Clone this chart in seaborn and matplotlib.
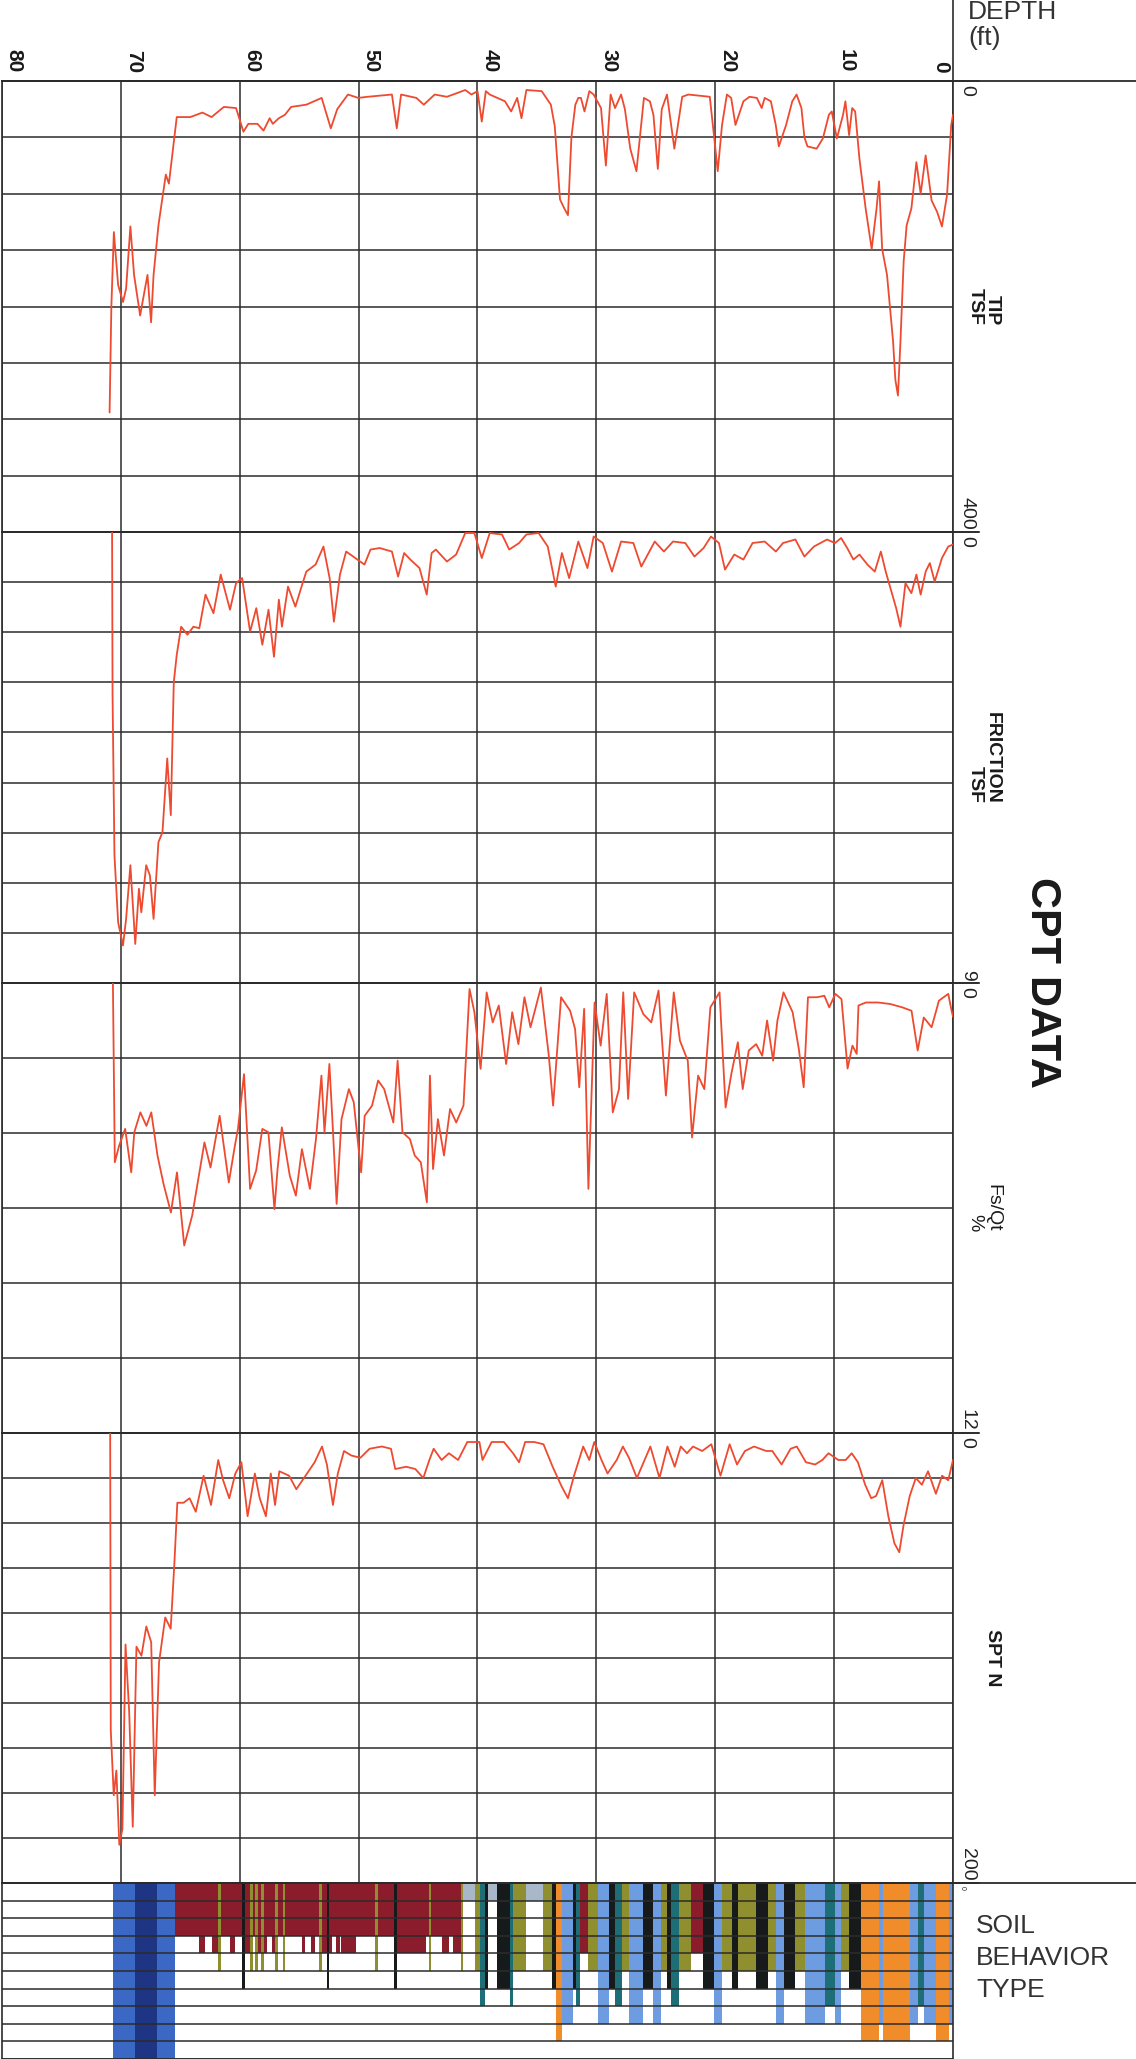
import numpy as np
import matplotlib
matplotlib.use("Agg")
import matplotlib.pyplot as plt
import seaborn as sns

# depth (ft) vs. cone readings
tip_depth = [
    0.0, 0.15, 0.5, 0.93, 1.34, 1.8, 2.3, 2.72, 3.08, 3.5,
    3.9, 4.15, 4.42, 4.63, 4.85, 5.04, 5.55, 5.96, 6.22, 6.43,
    6.84, 7.35, 7.87, 8.23, 8.48, 8.74, 9.05, 9.25, 9.77, 10.2,
    10.44, 10.95, 11.47, 12.24, 12.5, 12.75, 13.16, 13.52, 14.04, 14.65,
    14.91, 15.32, 15.84, 16.09, 16.5, 17.12, 17.63, 18.3, 18.66, 19.02,
    19.43, 19.79, 20.05, 20.46, 22.26, 22.78, 23.44, 24.06, 24.5, 24.83,
    25.2, 25.5, 26.0, 26.63, 27.15, 27.6, 27.92, 28.43, 28.8, 29.2,
    29.61, 30.23, 30.59, 31.0, 31.3, 31.52, 31.77, 32.1, 32.39, 32.7,
    33.06, 33.5, 33.83, 34.6, 35.89, 36.3, 36.66, 37.17, 37.69, 38.97,
    39.3, 39.64, 40.0, 40.51, 41.03, 42.57, 43.6, 44.52, 45.14, 46.43,
    46.79, 47.2, 49.25, 50.03, 50.9, 51.8, 52.34, 53.11, 54.4, 55.68,
    56.2, 56.71, 57.22, 57.48, 58.0, 58.51, 59.28, 59.69, 60.31, 61.34,
    62.37, 63.14, 64.16, 65.09, 65.3, 65.96, 66.22, 66.84, 67.25, 67.46,
    67.76, 67.97, 68.38, 68.89, 69.2, 69.56, 69.82, 70.23, 70.59, 70.8,
    70.95,
]
tip_tsf = [
    30, 39, 101, 129, 116, 106, 66, 100, 72, 113,
    128, 160, 231, 279, 265, 231, 172, 149, 89, 113,
    149, 113, 69, 27, 24, 48, 18, 30, 51, 27,
    30, 51, 60, 58, 50, 24, 12, 18, 39, 58,
    39, 18, 15, 24, 15, 14, 18, 39, 15, 12,
    39, 80, 54, 14, 12, 14, 60, 12, 25, 78,
    30, 18, 15, 80, 60, 25, 12, 24, 12, 75,
    24, 12, 9, 27, 15, 15, 21, 50, 119, 113,
    105, 40, 21, 9, 8, 33, 15, 27, 18, 12,
    9, 36, 9, 12, 8, 14, 12, 21, 15, 12,
    42, 12, 14, 15, 12, 25, 42, 15, 21, 23,
    30, 33, 38, 33, 44, 38, 38, 45, 24, 23,
    32, 28, 32, 32, 32, 91, 83, 128, 172, 214,
    172, 184, 208, 172, 129, 184, 196, 181, 134, 200,
    294,
]

fric_depth = [
    0.0, 0.4, 0.93, 1.54, 1.95, 2.3, 2.72, 3.08, 3.5, 4.0,
    4.42, 4.78, 5.3, 5.66, 6.07, 6.58, 7.2, 7.87, 8.38, 8.9,
    9.41, 9.92, 10.6, 11.7, 12.5, 13.26, 14.3, 14.9, 15.84, 16.86,
    17.63, 18.4, 19.18, 19.69, 20.36, 20.98, 21.75, 22.52, 23.55, 24.32,
    25.09, 26.22, 26.89, 27.92, 28.69, 29.46, 30.23, 30.75, 31.52, 32.29,
    32.9, 33.42, 34.09, 34.86, 35.89, 36.5, 37.33, 37.94, 38.97, 39.64,
    40.26, 41.03, 41.8, 42.57, 43.5, 43.86, 44.27, 44.88, 45.65, 46.17,
    46.68, 47.2, 48.23, 49.0, 49.51, 50.28, 51.05, 51.57, 52.08, 52.44,
    52.96, 53.62, 54.4, 54.75, 55.32, 55.94, 56.45, 56.71, 57.12, 57.58,
    58.1, 58.61, 59.13, 59.8, 60.31, 60.82, 61.6, 62.21, 62.88, 63.4,
    63.9, 64.4, 64.93, 65.3, 65.55, 65.8, 66.1, 66.5, 66.84, 67.25,
    67.56, 67.87, 68.28, 68.48, 68.79, 69.2, 69.56, 69.82, 70.23, 70.54,
    70.7, 70.74,
]
fric_tsf = [
    0.25, 0.29, 0.52, 0.99, 0.62, 0.79, 1.25, 0.85, 1.22, 1.02,
    1.89, 1.52, 1.09, 0.79, 0.39, 0.79, 0.65, 0.45, 0.55, 0.32,
    0.12, 0.22, 0.15, 0.29, 0.49, 0.15, 0.22, 0.39, 0.19, 0.22,
    0.55, 0.45, 0.75, 0.22, 0.09, 0.32, 0.49, 0.22, 0.19, 0.39,
    0.19, 0.69, 0.22, 0.19, 0.79, 0.22, 0.09, 0.72, 0.19, 0.92,
    0.42, 1.09, 0.29, 0.02, 0.05, 0.22, 0.35, 0.05, 0.02, 0.52,
    0.02, 0.02, 0.45, 0.59, 0.35, 0.42, 1.25, 0.72, 0.55, 0.42,
    0.89, 0.39, 0.32, 0.35, 0.65, 0.52, 0.39, 0.85, 1.79, 0.92,
    0.29, 0.65, 0.79, 1.05, 1.49, 1.09, 1.89, 1.35, 2.49, 1.55,
    2.25, 1.52, 1.99, 0.92, 1.02, 1.55, 0.85, 1.62, 1.25, 1.92,
    1.89, 2.05, 1.89, 2.45, 3.0, 5.65, 4.52, 5.99, 6.19, 7.72,
    6.85, 6.65, 7.59, 7.12, 8.22, 6.65, 7.72, 8.25, 7.79, 6.45,
    3.25, 0.0,
]

ratio_depth = [
    0.0, 0.15, 0.4, 1.18, 1.8, 2.46, 2.97, 3.49, 4.26, 5.28,
    6.3, 7.33, 7.95, 8.1, 8.46, 8.87, 9.38, 9.9, 10.41, 10.82,
    11.44, 12.2, 12.56, 12.97, 13.49, 14.26, 14.77, 15.13, 15.64, 16.05,
    16.56, 17.18, 17.69, 18.1, 18.62, 19.13, 19.64, 20.41, 20.92, 21.44,
    21.95, 22.31, 22.97, 23.49, 24.15, 24.77, 25.38, 26.05, 26.82, 27.33,
    27.74, 28.1, 28.62, 29.13, 29.64, 30.15, 30.67, 31.03, 31.44, 31.79,
    32.21, 32.97, 33.64, 34.0, 34.67, 35.54, 36.05, 36.56, 37.08, 37.59,
    38.21, 38.72, 39.23, 39.74, 40.26, 40.67, 41.18, 41.79, 42.31, 42.82,
    43.33, 43.74, 44.0, 44.26, 44.77, 45.28, 45.69, 46.31, 46.72, 47.08,
    47.85, 48.36, 48.87, 49.49, 49.79, 50.41, 50.82, 51.44, 51.85, 52.21,
    52.46, 52.87, 53.13, 53.59, 54.1, 54.77, 55.28, 55.79, 56.46, 56.82,
    57.08, 57.59, 58.1, 58.62, 59.13, 59.64, 60.15, 60.41, 60.92, 61.69,
    62.46, 62.97, 63.49, 64.0, 64.67, 65.28, 65.79, 66.41, 66.92, 67.44,
    67.85, 68.36, 68.87, 69.13, 69.64, 70.15, 70.51, 70.67,
]
ratio_pct = [
    0.9, 0.69, 0.29, 0.47, 1.18, 0.92, 1.8, 0.74, 0.65, 0.56,
    0.52, 0.52, 0.6, 1.89, 1.67, 2.28, 0.43, 0.29, 0.65, 0.34,
    0.38, 0.38, 2.78, 1.76, 0.78, 0.25, 1.0, 2.07, 1.0, 1.94,
    1.63, 1.8, 2.83, 1.58, 2.38, 3.32, 0.25, 0.65, 2.83, 2.47,
    4.12, 2.07, 1.54, 0.25, 3.0, 0.2, 1.05, 0.83, 0.25, 3.09,
    0.25, 2.83, 3.45, 0.29, 1.67, 0.52, 5.49, 0.69, 2.78, 1.23,
    0.74, 0.38, 3.27, 1.94, 0.12, 1.18, 0.38, 1.63, 0.78, 2.16,
    0.6, 1.05, 0.25, 2.29, 0.78, 0.16, 3.27, 3.72, 3.36, 4.6,
    3.63, 4.96, 2.47, 5.85, 4.78, 4.6, 4.16, 3.98, 2.07, 3.72,
    2.83, 2.6, 3.27, 3.54, 5.05, 3.18, 2.83, 3.63, 5.89, 3.63,
    2.16, 3.98, 2.47, 4.16, 5.49, 4.43, 5.67, 5.14, 3.85, 4.96,
    6.03, 3.98, 3.89, 5.0, 5.49, 2.43, 3.89, 4.34, 5.32, 3.54,
    4.92, 4.25, 5.23, 6.2, 7.0, 5.05, 6.12, 5.36, 4.6, 3.45,
    3.81, 3.45, 3.98, 5.05, 3.89, 4.34, 4.78, 0.0,
]

spt_depth = [
    0.0, 0.4, 0.92, 1.44, 2.1, 2.62, 3.13, 3.64, 4.16, 4.52,
    4.93, 5.44, 5.95, 6.47, 6.88, 7.39, 8.0, 8.52, 9.03, 9.65,
    10.47, 10.99, 11.6, 12.37, 13.14, 13.66, 14.42, 15.2, 15.71, 16.74,
    17.5, 18.17, 18.79, 19.56, 20.33, 21.1, 21.87, 22.38, 22.9, 23.41,
    24.02, 24.69, 25.46, 26.59, 27.26, 27.77, 28.29, 29.06, 29.57, 30.18,
    30.6, 31.11, 31.88, 32.39, 32.9, 33.68, 34.45, 35.22, 35.99, 36.5,
    37.01, 37.78, 38.81, 39.58, 39.84, 40.86, 41.63, 42.4, 43.02, 43.69,
    44.05, 44.56, 45.23, 46.0, 46.92, 47.28, 48.05, 49.08, 49.85, 50.62,
    51.23, 51.75, 52.16, 52.67, 53.08, 53.7, 54.47, 55.24, 55.85, 56.67,
    57.03, 57.39, 57.8, 58.32, 58.73, 59.34, 59.86, 60.37, 60.88, 61.4,
    61.81, 62.42, 63.04, 63.7, 64.22, 64.73, 65.25, 65.5, 65.81, 66.27,
    66.79, 67.15, 67.45, 67.86, 68.27, 68.69, 69.0, 69.3, 69.61, 69.87,
    70.13, 70.38, 70.6, 70.85, 70.9,
]
spt_n = [
    12, 21, 19, 27, 17, 23, 20, 28, 41, 53,
    49, 37, 21, 28, 29, 23, 13, 9, 12, 12,
    9, 12, 14, 13, 6, 7, 14, 8, 8, 6,
    8, 14, 5, 19, 5, 8, 6, 9, 6, 15,
    6, 20, 6, 20, 11, 6, 12, 18, 12, 4,
    12, 6, 19, 29, 24, 15, 5, 4, 4, 13,
    9, 4, 4, 12, 4, 4, 12, 9, 12, 7,
    12, 20, 16, 15, 16, 7, 6, 7, 11, 10,
    8, 18, 32, 14, 6, 13, 19, 25, 19, 17,
    32, 18, 37, 29, 18, 37, 13, 18, 29, 21,
    12, 32, 19, 35, 29, 31, 31, 58, 87, 82,
    102, 161, 93, 86, 99, 95, 175, 124, 94, 176,
    183, 150, 161, 132, 0,
]

# soil behaviour type: layer boundaries (ft) and zone of each layer
soil_bounds = [
    0.0, 0.31, 1.43, 2.45, 2.96, 3.64, 5.85, 6.19, 7.72, 8.74,
    9.42, 9.93, 10.78, 12.48, 13.33, 14.18, 14.86, 15.54, 16.56, 18.1,
    18.61, 19.46, 20.14, 20.99, 22.01, 23.03, 23.71, 24.05, 24.56, 25.24,
    26.09, 27.28, 27.86, 28.47, 28.98, 29.83, 30.68, 31.36, 31.7, 32.0,
    32.9, 33.4, 33.74, 34.5, 35.9, 37.0, 37.3, 38.4, 39.1, 39.4,
    39.8, 40.2, 41.2, 41.4, 42.1, 42.4, 43.0, 43.9, 44.1, 44.3,
    46.8, 47.0, 48.4, 48.6, 50.2, 51.5, 51.6, 51.9, 52.2, 52.5,
    52.7, 53.1, 53.3, 53.7, 54.0, 54.5, 54.8, 56.2, 56.4, 56.8,
    57.0, 57.3, 57.7, 58.0, 58.2, 58.5, 58.7, 58.9, 59.1, 59.6,
    59.8, 60.4, 60.8, 61.6, 61.8, 62.3, 62.9, 63.4, 65.45, 67.0,
    68.8, 70.7,
]
soil_zone = [
    8, 9, 8, 7, 8, 9, 8, 9, 6, 5,
    8, 7, 8, 5, 6, 8, 5, 6, 5, 6,
    5, 8, 6, 4, 5, 7, 6, 5, 8, 6,
    8, 5, 7, 6, 8, 5, 4, 7, 6, 8,
    9, 6, 5, 1, 5, 7, 6, 1, 6, 7,
    5, 1, 5, 4, 3, 4, 3, 5, 3, 4,
    6, 3, 5, 3, 4, 3, 4, 3, 4, 6,
    4, 5, 3, 4, 3, 4, 3, 5, 3, 5,
    4, 3, 4, 5, 4, 5, 3, 5, 4, 6,
    3, 4, 3, 5, 4, 3, 4, 3, 11, 12,
    11,
]
zone_colors = {
    1: "#a9b8c9", 3: "#8a1c2c", 4: "#8a1c2c", 5: "#8f8f2f", 6: "#161a1a",
    7: "#1e6e78", 8: "#6e9ce0", 9: "#f08c2a", 11: "#3a68c4", 12: "#1d3583",
}

depth_ticks = [0, 10, 20, 30, 40, 50, 60, 70, 80]

FIG_W, FIG_H = 1136, 2059
LINE = "#ee4a30"
GRID = "#2b2b2b"

sns.set_theme(style="white")
plt.rcParams["font.family"] = ["Liberation Sans", "DejaVu Sans"]


def rect(top, bottom):
    return [2 / FIG_W, 1 - bottom / FIG_H, (953 - 2) / FIG_W, (bottom - top) / FIG_H]


def frame(ax, vmax, step):
    ax.set_xlim(80, 0)
    ax.set_ylim(vmax, 0)
    ax.set_xticks(depth_ticks)
    ax.set_yticks(np.arange(0, vmax + step / 2, step))
    ax.tick_params(length=0, labelbottom=False, labelleft=False)
    ax.grid(True, color=GRID, linewidth=1.1)
    ax.set_xlabel("")
    ax.set_ylabel("")
    for sp in ax.spines.values():
        sp.set_color(GRID)
        sp.set_linewidth(1.2)


fig = plt.figure(figsize=(FIG_W / 100, FIG_H / 100), dpi=100)

panels = [
    (tip_depth, tip_tsf, 400, 50, "400", "TIP\nTSF", "bold", 81, 532),
    (fric_depth, fric_tsf, 9, 1, "9", "FRICTION\nTSF", "bold", 532, 983),
    (ratio_depth, ratio_pct, 12, 2, "12", "Fs/Qt\n%", "normal", 983, 1433),
    (spt_depth, spt_n, 200, 20, "200", "SPT N", "bold", 1433, 1883),
]

for i, (dep, val, vmax, step, maxlab, title, weight, top, bot) in enumerate(panels):
    ax = fig.add_axes(rect(top, bot))
    sns.lineplot(x=dep, y=val, ax=ax, color=LINE, linewidth=1.3,
                 sort=False, estimator=None, zorder=3)
    frame(ax, vmax, step)
    ax.text(1.006, 0.992, "0", transform=ax.transAxes, rotation=-90,
            ha="left", va="top", fontsize=14, color="#222")
    ax.text(1.006, 0.006, maxlab, transform=ax.transAxes, rotation=-90,
            ha="left", va="bottom", fontsize=14, color="#222")
    for yv in (0, vmax):
        ax.axhline(yv, xmin=0, xmax=1.027, color=GRID, lw=1.2, clip_on=False)
    fig.text(1001 / FIG_W, 1 - (top + bot) / 2 / FIG_H, title, rotation=-90,
             ha="right", va="center", fontsize=14, fontweight=weight,
             linespacing=1.05, color="#1a1a1a")
    if i == 0:
        ax.axhline(0, xmin=0, xmax=(FIG_W - 2) / 951, color=GRID, lw=1.3, clip_on=False)
        ax.axvline(0, ymin=1, ymax=1 + 81 / 451, color=GRID, lw=1.2, clip_on=False)
        for d in depth_ticks:
            off = -2 if d == 0 else 2
            ax.annotate(str(d), xy=(d, 1), xycoords=("data", "axes fraction"),
                        xytext=(off, 6), textcoords="offset points", rotation=-90,
                        ha="right" if d == 0 else "left", va="bottom",
                        fontsize=15, fontweight="bold", color="#1a1a1a")

# soil behaviour type strip
ax = fig.add_axes(rect(1883, FIG_H))
edges = np.array(soil_bounds)
mids = (edges[:-1] + edges[1:]) / 2
widths = np.diff(edges)
ax.bar(mids, soil_zone, width=widths, color=[zone_colors[z] for z in soil_zone],
       linewidth=0, align="center", zorder=1)
ax.set_xlim(80, 0)
ax.set_ylim(10, 0)
ax.set_yticks(range(0, 11))
ax.set_xticks([])
ax.tick_params(length=0, labelbottom=False, labelleft=False)
ax.set_axisbelow(False)
ax.grid(True, axis="y", color=GRID, linewidth=1.1, zorder=2)
for sp in ax.spines.values():
    sp.set_color(GRID)
    sp.set_linewidth(1.2)
ax.axhline(0, xmin=0, xmax=(FIG_W - 2) / 951, color=GRID, lw=1.3, clip_on=False)
ax.text(1.006, 0.985, "0", transform=ax.transAxes, rotation=-90,
        ha="left", va="top", fontsize=5, color="#222")

fig.text(968 / FIG_W, 1.0, "DEPTH\n(ft)", ha="left", va="top",
         fontsize=19, color="#333", linespacing=1.1)
fig.text(976 / FIG_W, 1 - 1914 / FIG_H, "SOIL\nBEHAVIOR\nTYPE", ha="left", va="top",
         fontsize=19, color="#333", linespacing=1.42)
fig.text(1042 / FIG_W, 1 - 982 / FIG_H, "CPT DATA", rotation=-90, ha="center",
         va="center", fontsize=31, fontweight="bold", color="#1a1a1a")

fig.savefig("out.png", dpi=100)
